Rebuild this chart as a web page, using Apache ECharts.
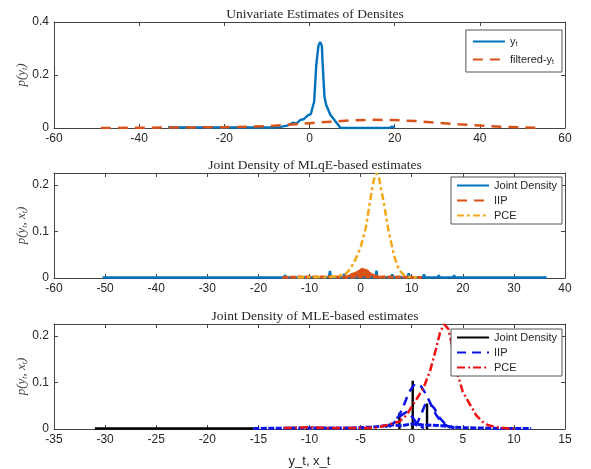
<!DOCTYPE html>
<html>
<head>
<meta charset="utf-8">
<script src="https://cdn.jsdelivr.net/npm/echarts@6/dist/echarts.min.js"></script>
<style>
  html, body { margin: 0; padding: 0; background: #fff; }
  #chart { width: 591px; height: 469px; }
</style>
</head>
<body>
<div id="chart"></div>
<script>
// panel 1: univariate densities
const ytLine = [[-33.2,0.003],[-30,0.002],[-25,0.002],[-20,0.002],[-15,0.002],[-10,0.002],[-8.3,0.002],[-6.5,0.005],[-5.2,0.009],[-3.9,0.02],[-3.1,0.016],[-2.2,0.03],[-1.3,0.034],[-0.4,0.048],[0.3,0.052],[1.1,0.1],[1.6,0.24],[2.1,0.31],[2.5,0.325],[2.9,0.31],[3.1,0.24],[3.5,0.12],[3.9,0.088],[4.9,0.05],[6.4,0.019],[7.3,0],[12,0],[18.8,0],[19.3,0.005],[20.1,0.002]];
const filteredYt = [[-49,0],[-40,0.001],[-30,0.002],[-20,0.003],[-10,0.007],[-5,0.012],[0,0.018],[5,0.024],[10,0.029],[15,0.031],[20,0.03],[25,0.026],[30,0.02],[35,0.014],[40,0.009],[45,0.005],[50,0.002],[54,0.001]];

// panel 2: MLqE joint density
const mlqeJoint = [[-50.5,0.001],[-17.9,0.001],[-17.7,0.004],[-17.5,0.001],[-15,0.001],[-14.8,0.006],[-14.6,0.001],[-11.2,0.001],[-11,0.003],[-10.8,0.001],[-8.7,0.001],[-8.5,0.004],[-8.3,0.001],[-6.2,0.001],[-6,0.015],[-5.8,0.001],[-3.4,0.001],[-3.2,0.009],[-3,0.001],[2.9,0.001],[3.1,0.016],[3.3,0.001],[6,0.001],[6.2,0.008],[6.4,0.001],[9.2,0.001],[9.4,0.01],[9.6,0.001],[12.2,0.001],[12.4,0.008],[12.6,0.001],[15.1,0.001],[15.3,0.006],[15.5,0.001],[18.1,0.001],[18.3,0.006],[18.5,0.001],[21.2,0.001],[21.4,0.004],[21.6,0.001],[36.4,0.001]];
const mlqeIIP = [[-15.3,0.001],[-12,0.002],[-9,0.002],[-6,0.002],[-3.1,0.002],[0,0.003],[4,0.002],[8,0.002],[12,0.001]];
const mlqeIIPHump = [[-3.1,0],[-2,0.006],[-1,0.012],[0.3,0.019],[1.2,0.016],[2.2,0.009],[3,0.005],[3.9,0]];
const mlqePCE = [[-12.4,0.001],[-10,0.002],[-7,0.002],[-5,0.003],[-3,0.008],[-2,0.02],[-1,0.04],[0,0.066],[1,0.107],[2,0.175],[2.6,0.212],[3.1,0.225],[3.6,0.215],[4.5,0.164],[5.5,0.1],[6.5,0.05],[7.5,0.018],[8.5,0.006],[9.5,0.002],[11,0.001]];

// panel 3: MLE joint density
const mleJointBase = [[-31,0.001],[-15.5,0.001]];
const mleJointSpikes = [[-1.2,0.035],[0.1,0.104],[1.5,0.055]];
const mleIIPHumpA = [[-2.6,0.004],[-1.8,0.012],[-1.2,0.03],[-0.7,0.055],[-0.3,0.078],[0.3,0.097],[0.9,0.092],[1.4,0.075],[1.9,0.052],[2.4,0.03],[3,0.012],[3.8,0.003]];
const mleIIPHumpB = [[0.4,0.006],[0.9,0.03],[1.3,0.052],[1.7,0.056],[2.2,0.045],[2.7,0.025],[3.3,0.01],[4.2,0.002]];
const mleIIPHumpC = [[-2.2,0.004],[-1.6,0.016],[-1,0.03],[-0.4,0.038],[0.1,0.025],[0.6,0.008],[1.2,0.002]];
const mleIIPBase = [[-15.5,0.001],[-12,0.002],[-9,0.002],[-6,0.002],[-4,0.004],[-3,0.006],[-2,0.009],[-1,0.007],[0,0.011],[1,0.009],[2,0.008],[3,0.007],[4,0.004],[5,0.003],[7,0.002],[9,0.001],[11.7,0.001]];
const mlePCE = [[-12.5,0.002],[-10,0.004],[-8,0.002],[-5,0.002],[-3.5,0.003],[-2.5,0.008],[-1.2,0.016],[-0.5,0.03],[0.2,0.055],[0.7,0.072],[1.2,0.091],[1.8,0.125],[2.35,0.17],[2.8,0.21],[3.2,0.225],[3.6,0.215],[4,0.175],[4.4,0.125],[5,0.08],[5.8,0.049],[6.3,0.03],[6.9,0.016],[7.5,0.008],[8.4,0.004],[9.5,0.001],[10,0.001]];

const titles = ['Univariate Estimates of Densites', 'Joint Density of MLqE-based estimates', 'Joint Density of MLE-based estimates'];
const xRanges = [[-60, 60, 20], [-60, 40, 10], [-35, 15, 5]];
const yRanges = [[0, 0.4, 0.2], [0, 0.226, 0.1], [0, 0.226, 0.1]];
const gridTops = [22, 173, 324];
const gridHeights = [106, 105, 105];

const AXIS = '#444';
const TXT = '#262626';
const SANS = '"Liberation Sans", Arial, sans-serif';
const SERIF = '"Liberation Serif", "DejaVu Serif", serif';

const chart = echarts.init(document.getElementById('chart'), null, { renderer: 'canvas' });

const grid = [], xAxis = [], yAxis = [], title = [];
for (let i = 0; i < 3; i++) {
  grid.push({ left: 54, width: 511, top: gridTops[i], height: gridHeights[i] });
  title.push({
    text: titles[i], left: 310, top: gridTops[i] - 20, textAlign: 'center',
    textStyle: { fontFamily: SERIF, fontSize: 13.5, fontWeight: 'normal', color: TXT }
  });
  const [xmin, xmax, xint] = xRanges[i];
  const [ymin, ymax, yint] = yRanges[i];
  const lineStyle = { color: AXIS, width: 1 };
  xAxis.push({
    gridIndex: i, type: 'value', min: xmin, max: xmax, interval: xint, position: 'bottom',
    axisLine: { onZero: false, lineStyle },
    axisTick: { inside: true, length: 4, lineStyle },
    axisLabel: { color: TXT, fontFamily: SANS, fontSize: 12, margin: 5 },
    splitLine: { show: false },
    name: i === 2 ? 'y_t, x_t' : '', nameLocation: 'middle', nameGap: 26,
    nameTextStyle: { color: TXT, fontFamily: SANS, fontSize: 13 }
  });
  xAxis.push({
    gridIndex: i, type: 'value', min: xmin, max: xmax, interval: xint, position: 'top',
    axisLine: { onZero: false, lineStyle },
    axisTick: { inside: true, length: 4, lineStyle },
    axisLabel: { show: false }, splitLine: { show: false }
  });
  const yName = i === 0 ? '{a|p(y}{b|t}{a|)}' : '{a|p(y}{b|t}{a|, x}{b|t}{a|)}';
  yAxis.push({
    gridIndex: i, type: 'value', min: ymin, max: ymax, interval: yint, position: 'left',
    axisLine: { onZero: false, lineStyle },
    axisTick: { inside: true, length: 4, lineStyle },
    axisLabel: { color: TXT, fontFamily: SANS, fontSize: 12, margin: 5, showMaxLabel: i === 0 },
    splitLine: { show: false },
    name: yName, nameLocation: 'middle', nameRotate: 90, nameGap: 25, nameMoveOverlap: false,
    nameTextStyle: {
      rich: {
        a: { fontFamily: SERIF, fontStyle: 'italic', fontSize: 13, color: '#444' },
        b: { fontFamily: SERIF, fontStyle: 'italic', fontSize: 8, color: '#444', padding: [7, 0, 0, 0] }
      }
    }
  });
  yAxis.push({
    gridIndex: i, type: 'value', min: ymin, max: ymax, interval: yint, position: 'right',
    axisLine: { onZero: false, lineStyle },
    axisTick: { inside: true, length: 4, lineStyle },
    axisLabel: { show: false }, splitLine: { show: false }
  });
}

function line(name, panel, data, color, width, type, extra) {
  return Object.assign({
    name, type: 'line', data, xAxisIndex: panel * 2, yAxisIndex: panel * 2,
    symbol: 'none', animation: false, silent: true,
    lineStyle: { color, width, type },
    itemStyle: { color }
  }, extra || {});
}

const BLUE = '#0072BD', ORANGE = '#D95319', YELLOW = '#F2A91C';
const BLACK = '#000000', PURE_BLUE = '#0a14e6', RED = '#ee1111';

const series = [
  line('y_t', 0, ytLine, BLUE, 2.4, 'solid'),
  line('filtered-y_t', 0, filteredYt, ORANGE, 2.5, [10, 7]),

  line('Joint Density', 1, mlqeJoint, BLUE, 2.4, 'solid'),
  line('IIP', 1, mlqeIIPHump, ORANGE, 2.5, [10, 7]),
  line('IIP', 1, mlqeIIP, ORANGE, 3, [6, 1.5]),
  line('IIP-fill', 1, mlqeIIPHump, ORANGE, 1.5, 'solid', { areaStyle: { color: ORANGE, opacity: 1 } }),
  line('PCE', 1, mlqePCE, YELLOW, 2.5, [7, 3, 3, 3]),

  line('Joint Density#3', 2, mleJointBase, BLACK, 2.4, 'solid')
];
mleJointSpikes.forEach(s => {
  series.push(line('Joint Density#3', 2, [[s[0], 0], s], BLACK, 2.4, 'solid'));
});
series.push(
  line('IIP#3', 2, mleIIPHumpA, PURE_BLUE, 2.5, [9, 6]),
  line('IIP#3', 2, mleIIPHumpB, PURE_BLUE, 2.5, [9, 6]),
  line('IIP#3', 2, mleIIPHumpC, PURE_BLUE, 2.5, [9, 6]),
  line('IIP#3', 2, mleIIPBase, PURE_BLUE, 3, [6, 1.5]),
  line('PCE#3', 2, mlePCE, RED, 2.5, [8, 3, 2, 3])
);

const legendText = {
  fontFamily: SANS, fontSize: 11, color: TXT,
  rich: {
    n: { fontFamily: SANS, fontSize: 11, color: TXT },
    s: { fontFamily: SANS, fontSize: 7, color: TXT, padding: [6, 0, 0, 0] }
  }
};
function legendFormat(name) {
  const base = name.replace(/#\d$/, '');
  if (base === 'y_t') return '{n|y}{s|t}';
  if (base === 'filtered-y_t') return '{n|filtered-y}{s|t}';
  return base;
}
function legend(data, top, gap, pad) {
  return {
    data, orient: 'vertical', right: 29, top, itemGap: gap, itemWidth: 32, itemHeight: 11,
    padding: pad, backgroundColor: '#fff', borderColor: '#555', borderWidth: 1,
    borderRadius: 0, textStyle: legendText, formatter: legendFormat, selectedMode: false,
    itemStyle: { opacity: 0 }
  };
}

chart.setOption({
  backgroundColor: '#fff',
  animation: false,
  title, grid, xAxis, yAxis,
  legend: [
    legend(['y_t', 'filtered-y_t'], 30, 6, [6, 8, 6, 6]),
    legend(['Joint Density', 'IIP', 'PCE'], 177, 4, [3, 5, 3, 5]),
    legend(['Joint Density#3', 'IIP#3', 'PCE#3'], 329, 4, [3, 5, 3, 5])
  ],
  series
});
</script>
</body>
</html>
